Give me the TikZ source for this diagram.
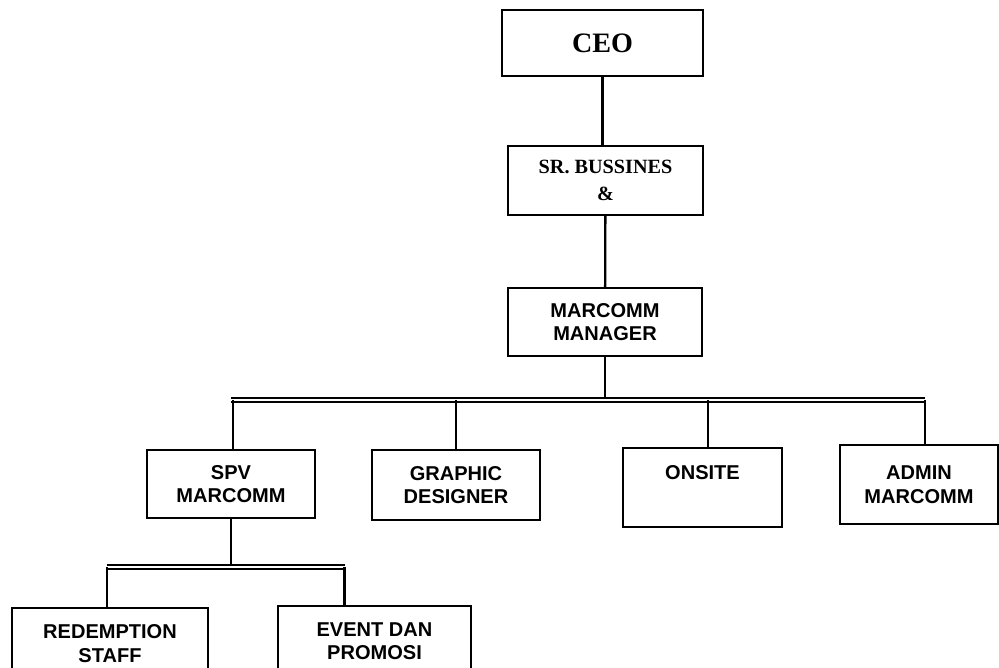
\documentclass[tikz,border=0pt]{standalone}
\usepackage{fontspec}
\setmainfont{Liberation Serif}
\newfontfamily\arialfont{Liberation Sans}
\usetikzlibrary{positioning, calc}
\tikzset{
  box/.style={rectangle, draw=black, line width=1.1pt, fill=white, align=center,
              inner sep=2pt, font=\arialfont\bfseries\fontsize{11.4}{13.5}\selectfont},
  boxs/.style={box, font=\bfseries\fontsize{11.5}{15}\selectfont},
  link/.style={draw=black, line width=1.3pt},
  bus/.style={draw=black, line width=0.8pt, double, double distance=1.4pt},
}
\begin{document}
\begin{tikzpicture}[x=0.2mm, y=-0.2mm]
  \useasboundingbox (0,0) rectangle (999,668);
  \clip (0,0) rectangle (999,668);
  % top of the chart
  \node[boxs, minimum width=40.2mm, minimum height=13.2mm, font=\bfseries\fontsize{16}{18}\selectfont] (ceo) at (602.5,43) {CEO};
  \node[boxs, minimum width=39mm, minimum height=13.8mm] (sr) at (605.5,180.5) {SR. BUSSINES\\\&};
  \node[box, minimum width=38.8mm, minimum height=13.6mm] (mgr) at (605,322) {MARCOMM\\MANAGER};
  % staff row
  \node[box, minimum width=33.6mm, minimum height=13.6mm] (spv) at (231,484) {SPV\\MARCOMM};
  \node[box, minimum width=33.6mm, minimum height=14mm] (gd) at (456,485) {GRAPHIC\\DESIGNER};
  \node[box, minimum width=31.8mm, minimum height=15.8mm] (onsite) at (702.5,487.5) {ONSITE\\\strut};
  \node[box, minimum width=31.6mm, minimum height=15.8mm] (admin) at (919,484.5) {ADMIN\\MARCOMM};
  % under spv
  \node[box, anchor=north, minimum width=39.2mm, inner ysep=3.3mm] (red) at (110,607) {REDEMPTION\\STAFF};
  \node[box, anchor=north, minimum width=38.6mm, inner ysep=3.3mm] (event) at (374.5,605) {EVENT DAN\\PROMOSI};

  \coordinate (bus) at (0,400);
  \coordinate (subbus) at (0,567);
  \coordinate (evtop) at ([xshift=-6mm]event.north);

  \draw[link] (ceo.south) -- (ceo.south |- sr.north);
  \draw[link] (sr) -- (mgr);
  \draw[link] (mgr.south) -- (mgr.south |- bus);
  \draw[bus] (spv.north |- bus) -- ([xshift=1.2mm]admin.north |- bus);
  \foreach \n/\dx in {spv/0.4mm, gd/0mm, onsite/1.1mm, admin/1.2mm}
    \draw[link] ([xshift=\dx]\n.north) -- ([xshift=\dx]\n.north |- bus);

  \draw[link] (spv.south) -- (spv.south |- subbus);
  \draw[bus] ([xshift=-0.6mm]red.north |- subbus) -- (evtop |- subbus);
  \draw[link] ([xshift=-0.6mm]red.north) -- ([xshift=-0.6mm]red.north |- subbus);
  \draw[link] (evtop) -- (evtop |- subbus);
\end{tikzpicture}
\end{document}
